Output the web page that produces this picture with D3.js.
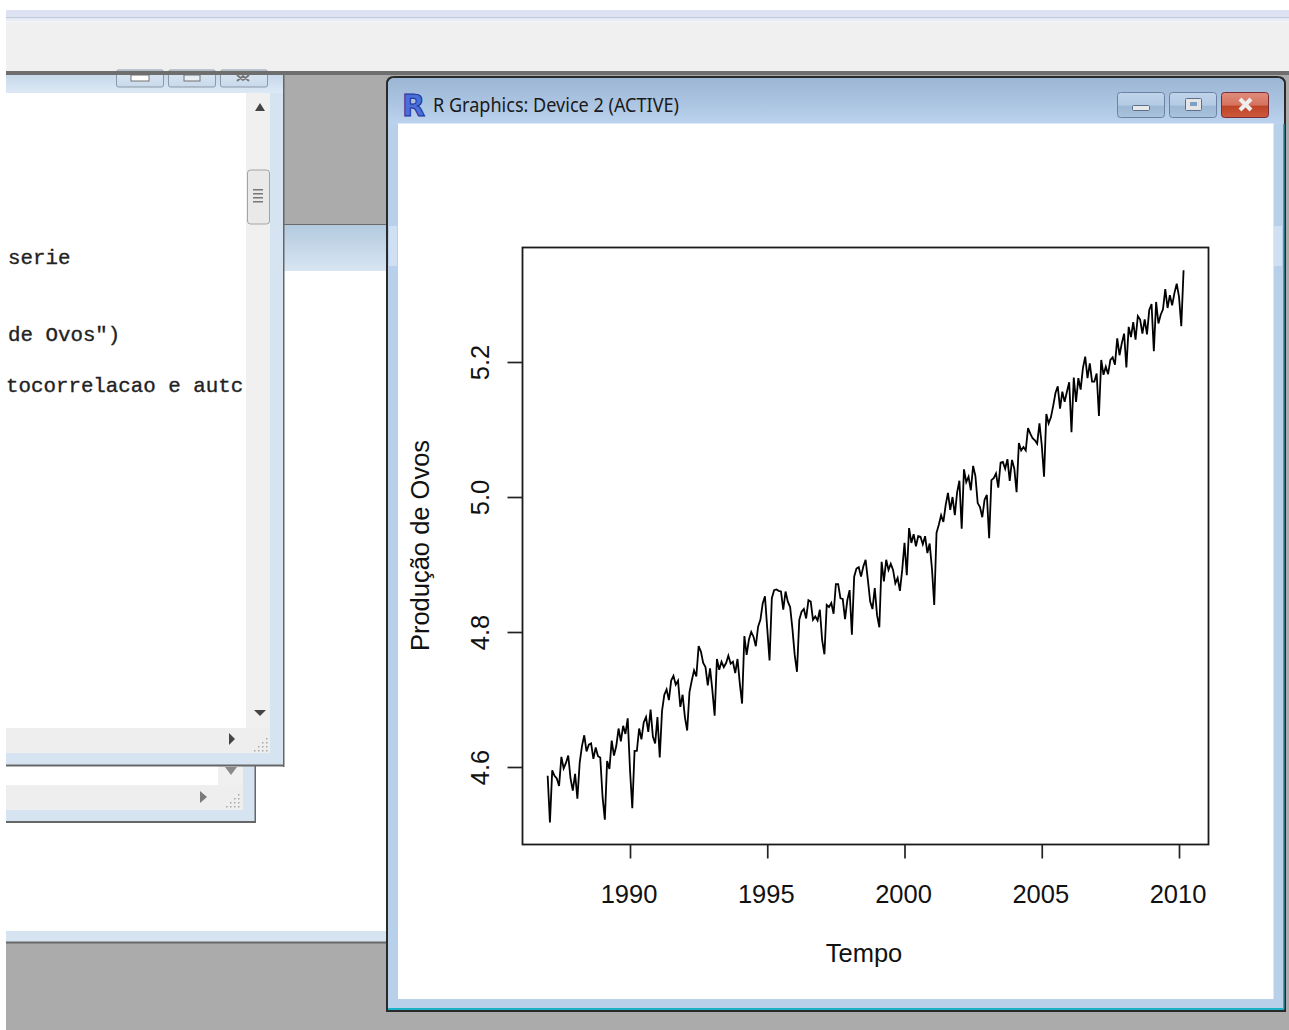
<!DOCTYPE html>
<html>
<head>
<meta charset="utf-8">
<title>Producao de Ovos</title>
<script src="https://cdn.jsdelivr.net/npm/d3@7"></script>
<style>
  html, body { margin: 0; padding: 0; background: #fff; }
  svg { display: block; }
</style>
</head>
<body>
<div id="tela"></div>
<script>
// serie mensal, jan/1987 ate mar/2010
var inicio = 1987;
var producao = [
  4.587, 4.518, 4.595, 4.587, 4.583, 4.572, 4.615, 4.598, 4.606, 4.617, 4.583, 4.565,
  4.590, 4.553, 4.606, 4.631, 4.647, 4.623, 4.633, 4.635, 4.612, 4.629, 4.616, 4.614,
  4.556, 4.522, 4.609, 4.597, 4.639, 4.617, 4.631, 4.657, 4.638, 4.661, 4.649, 4.672,
  4.596, 4.539, 4.624, 4.624, 4.657, 4.641, 4.666, 4.674, 4.652, 4.685, 4.645, 4.635,
  4.674, 4.614, 4.683, 4.707, 4.715, 4.699, 4.728, 4.735, 4.722, 4.728, 4.689, 4.707,
  4.674, 4.654, 4.711, 4.728, 4.743, 4.734, 4.779, 4.771, 4.754, 4.748, 4.721, 4.746,
  4.714, 4.676, 4.760, 4.744, 4.756, 4.748, 4.754, 4.765, 4.753, 4.756, 4.739, 4.760,
  4.724, 4.694, 4.794, 4.766, 4.789, 4.800, 4.793, 4.779, 4.808, 4.818, 4.842, 4.853,
  4.805, 4.758, 4.850, 4.862, 4.863, 4.861, 4.860, 4.833, 4.860, 4.845, 4.837, 4.805,
  4.766, 4.741, 4.818, 4.830, 4.834, 4.820, 4.847, 4.845, 4.818, 4.823, 4.817, 4.833,
  4.788, 4.767, 4.840, 4.837, 4.843, 4.827, 4.871, 4.871, 4.850, 4.849, 4.819, 4.847,
  4.862, 4.796, 4.882, 4.894, 4.896, 4.882, 4.897, 4.907, 4.877, 4.845, 4.834, 4.865,
  4.825, 4.807, 4.904, 4.875, 4.907, 4.892, 4.901, 4.892, 4.872, 4.880, 4.861, 4.892,
  4.932, 4.884, 4.954, 4.932, 4.945, 4.927, 4.942, 4.941, 4.930, 4.942, 4.917, 4.931,
  4.894, 4.840, 4.947, 4.959, 4.973, 4.963, 4.988, 5.006, 4.981, 5.000, 4.973, 5.007,
  5.024, 4.953, 5.041, 5.022, 5.030, 5.010, 5.046, 5.031, 4.991, 4.985, 4.970, 4.996,
  5.003, 4.939, 5.025, 5.028, 5.035, 5.014, 5.051, 5.052, 5.042, 5.056, 5.024, 5.055,
  5.042, 5.007, 5.080, 5.069, 5.074, 5.069, 5.102, 5.094, 5.087, 5.084, 5.079, 5.109,
  5.077, 5.030, 5.123, 5.109, 5.118, 5.135, 5.154, 5.164, 5.131, 5.156, 5.141, 5.156,
  5.170, 5.096, 5.177, 5.141, 5.176, 5.159, 5.191, 5.208, 5.176, 5.198, 5.171, 5.171,
  5.183, 5.120, 5.203, 5.181, 5.193, 5.182, 5.203, 5.207, 5.196, 5.235, 5.210, 5.228,
  5.242, 5.192, 5.252, 5.237, 5.259, 5.233, 5.268, 5.263, 5.242, 5.263, 5.241, 5.277,
  5.286, 5.216, 5.289, 5.257, 5.270, 5.278, 5.308, 5.280, 5.299, 5.284, 5.302, 5.316,
  5.297, 5.253, 5.336
];
var anos = [1990, 1995, 2000, 2005, 2010];
var niveis = [4.6, 4.8, 5.0, 5.2];

var svg = d3.select("#tela")
  .append("svg")
  .attr("width", 1289)
  .attr("height", 1030);

var defs = svg.append("defs");

function gradiente(id, cores) {
  var g = defs.append("linearGradient")
    .attr("id", id)
    .attr("x1", 0).attr("y1", 0).attr("x2", 0).attr("y2", 1);
  cores.forEach(function (c) {
    g.append("stop").attr("offset", c[0]).attr("stop-color", c[1]);
  });
}
gradiente("barraR", [[0, "#9bb6d4"], [0.5, "#aac3e0"], [1, "#bbd3ee"]]);
gradiente("barraTras", [[0, "#b3cadf"], [1, "#d8e5f2"]]);
gradiente("barraEsq", [[0, "#c6d8ea"], [1, "#dde9f5"]]);
gradiente("botao", [[0, "#c0d4ea"], [0.5, "#b4cbe4"], [0.55, "#9db8d4"], [1, "#a9c3de"]]);
gradiente("botaoFechar", [[0, "#e08d7c"], [0.5, "#d4735e"], [0.55, "#bf4427"], [1, "#cc5a3c"]]);
gradiente("botaoEsq", [[0, "#dbe7f3"], [1, "#c9d9ea"]]);

function ret(x, y, w, h, cor, extra) {
  var r = svg.append("rect")
    .attr("x", x).attr("y", y)
    .attr("width", w).attr("height", h)
    .attr("fill", cor);
  if (extra) {
    Object.keys(extra).forEach(function (k) { r.attr(k, extra[k]); });
  }
  return r;
}

function seta(pontos, cor) {
  svg.append("polygon").attr("points", pontos).attr("fill", cor);
}

function grip(x, y) {
  // pontinhos do canto de redimensionar
  [[12, 0], [8, 4], [12, 4], [4, 8], [8, 8], [12, 8], [0, 12], [4, 12], [8, 12], [12, 12]].forEach(function (p) {
    ret(x + p[0], y + p[1], 1.5, 1.5, "#a8a8a8");
  });
}

// ---------------------------//
//       FUNDO                //
// ---------------------------//

ret(6, 10, 1283, 8, "#dde3f3");
ret(6, 17, 1283, 1.5, "#c3cadb");
ret(6, 18.5, 1283, 3, "#e6ebf5");
ret(6, 22, 1283, 50, "#f0f0f0");
ret(6, 71, 1283, 4, "#6e6e6e");
ret(6, 75, 1283, 955, "#ababab");

// janela de tras, atras do grafico
ret(284, 224, 110, 1.5, "#6a6a6a");
ret(284, 225, 110, 46, "url(#barraTras)");
ret(6, 271, 388, 660, "#ffffff");
ret(6, 931, 388, 11, "#d6e4f2");
ret(6, 941.5, 388, 2, "#696969");

// janela menor de baixo
ret(6, 760, 249, 25, "#ffffff");
ret(218, 764, 25, 21, "#f0f0f0");
seta("225,767 237,767 231,775", "#8a8a8a");
ret(6, 785, 237, 25, "#eeeeee");
ret(243, 764, 12, 57, "#d6e4f2");
ret(6, 810, 249, 11, "#d6e4f2");
ret(254.5, 764, 1.5, 59, "#666666");
ret(6, 821, 250, 2, "#666666");
seta("200,791 200,803 207,797", "#7a7a7a");
grip(226, 794);

// ---------------------------//
//       JANELA DO SCRIPT     //
// ---------------------------//

ret(6, 75, 277, 18, "url(#barraEsq)");
ret(6, 93, 240, 635, "#ffffff");
ret(246, 93, 24, 635, "#f0f0f0");
ret(270, 93, 13, 672, "#d6e4f2");
ret(6, 728, 264, 25, "#eeeeee");
ret(6, 753, 264, 12, "#d6e4f2");
ret(283, 75, 1.5, 692, "#666666");
ret(6, 764.5, 278, 2, "#666666");

[116, 168, 220].forEach(function (bx) {
  ret(bx + 0.5, 70, 47, 17, "url(#botaoEsq)", { stroke: "#8a98aa", rx: 2 });
});
// barra cinza cobre o topo dos botoes
ret(6, 71, 1283, 4, "#6e6e6e");
ret(131, 75, 18, 6, "#ffffff", { stroke: "#707070" });
ret(184, 75, 16, 6, "#e8eef5", { stroke: "#707070" });
svg.append("path").attr("d", "M237,75 L243,80 L249,75 M237,81 L243,76 L249,81")
  .attr("stroke", "#777").attr("stroke-width", 2).attr("fill", "none");

// barra de rolagem
ret(247.5, 170, 22, 54, "#e9e9e9", { stroke: "#a4a4a4", rx: 3 });
ret(253, 189, 10, 1.5, "#777");
ret(253, 193, 10, 1.5, "#777");
ret(253, 197, 10, 1.5, "#777");
ret(253, 201, 10, 1.5, "#777");
seta("255,111 265,111 260,103", "#444");
seta("254,710 266,710 260,716", "#444");
seta("229,733 229,745 235,739", "#444");
grip(254, 738);

var codigo = svg.append("g")
  .attr("font-family", "'Liberation Mono', monospace")
  .attr("font-size", 20.8)
  .attr("fill", "#222")
  .attr("stroke", "#222")
  .attr("stroke-width", 0.35);
codigo.append("text").attr("x", 8).attr("y", 264).text("serie");
codigo.append("text").attr("x", 8).attr("y", 341).text("de Ovos\")");
codigo.append("text").attr("x", 6).attr("y", 392).text("tocorrelacao e autc");

// ---------------------------//
//       JANELA R             //
// ---------------------------//

svg.append("path")
  .attr("d", "M386,1012 L386,84 Q386,76 394,76 L1277,76 Q1286,76 1286,84 L1286,1012 Z")
  .attr("fill", "#2a2a2a");
svg.append("path")
  .attr("d", "M388,1008 L388,85 Q388,78 395,78 L1276,78 Q1284,78 1284,85 L1284,1008 Z")
  .attr("fill", "#b9d0ea");
ret(388, 78, 896, 46, "url(#barraR)", { rx: 6 });
ret(388, 1008, 896, 2, "#1cb2c6");
ret(1283, 124, 1.5, 885, "#1cb2c6");
ret(388, 124, 10, 876, "#b9d0ea");
ret(389, 226, 8, 40, "#cfe0f2");
ret(1274, 226, 8, 40, "#cfe0f2");
ret(398, 123.5, 875.5, 875.5, "#ffffff");

svg.append("text")
  .attr("x", 402).attr("y", 116)
  .attr("font-family", "'DejaVu Sans', sans-serif")
  .attr("font-weight", "bold")
  .attr("font-size", 30)
  .attr("fill", "#4a6fd8")
  .attr("stroke", "#1c2f9c")
  .attr("stroke-width", 1)
  .text("R");

svg.append("text")
  .attr("x", 433).attr("y", 112)
  .attr("font-family", "'Noto Sans', sans-serif")
  .attr("font-size", 19)
  .attr("textLength", 246)
  .attr("lengthAdjust", "spacingAndGlyphs")
  .attr("fill", "#1a1a1a")
  .text("R Graphics: Device 2 (ACTIVE)");

ret(1117.5, 92.5, 47, 25, "url(#botao)", { stroke: "#6d81a0", rx: 3 });
ret(1169.5, 92.5, 47, 25, "url(#botao)", { stroke: "#6d81a0", rx: 3 });
ret(1221.5, 92.5, 47, 25, "url(#botaoFechar)", { stroke: "#7a2c38", rx: 3 });
ret(1132.5, 105.5, 17, 5, "#e8e8e8", { stroke: "#5d6f88", rx: 1 });
ret(1185.5, 98.5, 16, 12, "#e4e4e4", { stroke: "#5d6f88", rx: 1 });
ret(1190, 102, 7, 4, "#7f9fc8");
svg.append("path")
  .attr("d", "M1240,99 L1251,110 M1251,99 L1240,110")
  .attr("stroke", "#eeeeee")
  .attr("stroke-width", 4);

// ---------------------------//
//       GRAFICO              //
// ---------------------------//

var x = d3.scaleLinear().domain([1990, 2010]).range([630, 1179]);
var y = d3.scaleLinear().domain([4.6, 5.2]).range([767, 362]);

var linha = d3.line()
  .x(function (d, i) { return x(inicio + i / 12); })
  .y(function (d) { return y(d); });

svg.append("path")
  .datum(producao)
  .attr("d", linha)
  .attr("fill", "none")
  .attr("stroke", "#000")
  .attr("stroke-width", 1.8)
  .attr("stroke-linejoin", "miter");

svg.append("rect")
  .attr("x", 522.5).attr("y", 247.5)
  .attr("width", 686).attr("height", 597)
  .attr("fill", "none")
  .attr("stroke", "#1a1a1a")
  .attr("stroke-width", 1.8);

var eixoX = svg.append("g")
  .attr("transform", "translate(0,844.5)")
  .call(d3.axisBottom(x).tickValues(anos).tickFormat(d3.format("d")).tickSize(14).tickPadding(26));
var eixoY = svg.append("g")
  .attr("transform", "translate(522.5,0)")
  .call(d3.axisLeft(y).tickValues(niveis).tickFormat(d3.format(".1f")).tickSize(15));

eixoX.select(".domain").remove();
eixoY.select(".domain").remove();

svg.selectAll(".tick line").attr("stroke", "#222").attr("stroke-width", 1.7);
svg.selectAll(".tick text")
  .attr("fill", "#111")
  .style("font-family", "'Liberation Sans', Arial, sans-serif")
  .style("font-size", "25.5px");

eixoX.selectAll(".tick text").attr("x", -1.5);

// no R os rotulos do eixo y ficam na vertical
eixoY.selectAll(".tick text")
  .attr("x", null)
  .attr("dy", null)
  .attr("text-anchor", "middle")
  .attr("transform", "translate(-33.5,0) rotate(-90)");

svg.append("text")
  .attr("x", 864).attr("y", 962)
  .attr("text-anchor", "middle")
  .attr("font-family", "'Liberation Sans', Arial, sans-serif")
  .attr("font-size", 25.5)
  .attr("fill", "#111")
  .text("Tempo");

svg.append("text")
  .attr("transform", "translate(429,545.5) rotate(-90)")
  .attr("text-anchor", "middle")
  .attr("font-family", "'Liberation Sans', Arial, sans-serif")
  .attr("font-size", 25.5)
  .attr("fill", "#111")
  .text("Produção de Ovos");
</script>
</body>
</html>
